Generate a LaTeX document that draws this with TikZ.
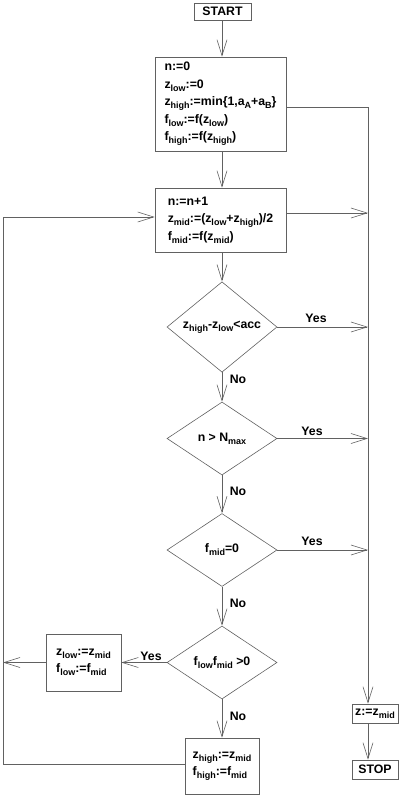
\documentclass[tikz,border=0pt]{standalone}
\usepackage{fontspec}
\setmainfont{Liberation Sans}
\usetikzlibrary{arrows.meta,shapes.geometric}
\newcommand{\sbs}[1]{\raisebox{-3pt}{\fontsize{9}{9}\selectfont #1}}
\begin{document}
\begin{tikzpicture}[x=1pt,y=-1pt,
  font=\bfseries\fontsize{12.3}{17.5}\selectfont,
  ln/.style={draw=black!62, line width=0.6pt},
  arr/.style={ln, -{Straight Barb[length=16pt,width=10pt,line width=0.6pt]}},
  box/.style={draw=black!62, line width=0.6pt, inner sep=0pt, align=left},
  dia/.style={draw=black!62, line width=0.6pt, diamond, inner sep=0pt, minimum width=110pt, minimum height=73pt},
  lbl/.style={inner sep=0pt}
]
\useasboundingbox (0,0) rectangle (400,796);

\node[box, minimum width=57pt, minimum height=17pt] (start) at (222.5,11.5) {START};
\node[box, minimum width=131pt, minimum height=94pt] (init) at (220.5,104)
  {n:=0\\ z\sbs{low}:=0\\ z\sbs{high}:=min\{1,a\sbs{A}+a\sbs{B}\}\\ f\sbs{low}:=f(z\sbs{low})\\ f\sbs{high}:=f(z\sbs{high})};
\node[box, minimum width=131pt, minimum height=64pt] (box2) at (220.5,220)
  {n:=n+1\\ z\sbs{mid}:=(z\sbs{low}+z\sbs{high})/2\\ f\sbs{mid}:=f(z\sbs{mid})};

\node[dia] (d1) at (222,327) {z\sbs{high}-z\sbs{low}<acc};
\node[dia] (d2) at (222,438.5) {n > N\sbs{max}};
\node[dia] (d3) at (222,550) {f\sbs{mid}=0};
\node[dia] (d4) at (222,662.5) {f\sbs{low}f\sbs{mid} >0};

\node[box, minimum width=75pt, minimum height=57pt] (zlow) at (83.5,662.5)
  {z\sbs{low}:=z\sbs{mid}\\ f\sbs{low}:=f\sbs{mid}};
\node[box, minimum width=74pt, minimum height=56pt] (zhigh) at (222,766)
  {z\sbs{high}:=z\sbs{mid}\\ f\sbs{high}:=f\sbs{mid}};
\node[box, minimum width=46pt, minimum height=19pt] (zbox) at (375,713.5) {z:=z\sbs{mid}};
\node[box, minimum width=46pt, minimum height=19pt] (stop) at (375,769.5) {STOP};

\coordinate (R) at (368,107);
\coordinate (L1) at (3,764);
\coordinate (L2) at (3,217);

\node[lbl] (y1) at (316,318) {Yes};
\node[lbl] (y2) at (312,431) {Yes};
\node[lbl] (y3) at (312,541) {Yes};
\node[lbl] (y4) at (151,656) {Yes};
\node[lbl] (n1) at (238,379) {No};
\node[lbl] (n2) at (238,491) {No};
\node[lbl] (n3) at (238,603) {No};
\node[lbl] (n4) at (238,716) {No};

\draw[arr] (start.south -| d1.north) -- (init.north -| d1.north);
\draw[arr] (init.south -| d1.north) -- (box2.north -| d1.north);
\draw[ln] ([yshift=-3pt]init.east) -- ([yshift=-3pt]init.east -| R);
\draw[arr] (R) -- (R |- zbox.north);
\draw[arr] ([yshift=7pt]box2.east) -- ([yshift=7pt]box2.east -| R);
\draw[arr] (box2.south -| d1.north) -- (d1.north);
\draw[arr] (d1.east) -- (d1.east -| R);
\draw[arr] (d1.south) -- (d2.north);
\draw[arr] (d2.east) -- (d2.east -| R);
\draw[arr] (d2.south) -- (d3.north);
\draw[arr] (d3.east) -- (d3.east -| R);
\draw[arr] (d3.south) -- (d4.north);
\draw[arr] (d4.west) -- (zlow.east);
\draw[arr] (d4.south) -- (zhigh.north);
\draw[arr] (zlow.west) -- (zlow.west -| L2);
\draw[arr] ([yshift=2pt]zhigh.west) -- (L1) -- (L2) -- (L2 -| box2.west);
\draw[arr] (zbox.south -| R) -- (stop.north -| R);
\end{tikzpicture}
\end{document}
